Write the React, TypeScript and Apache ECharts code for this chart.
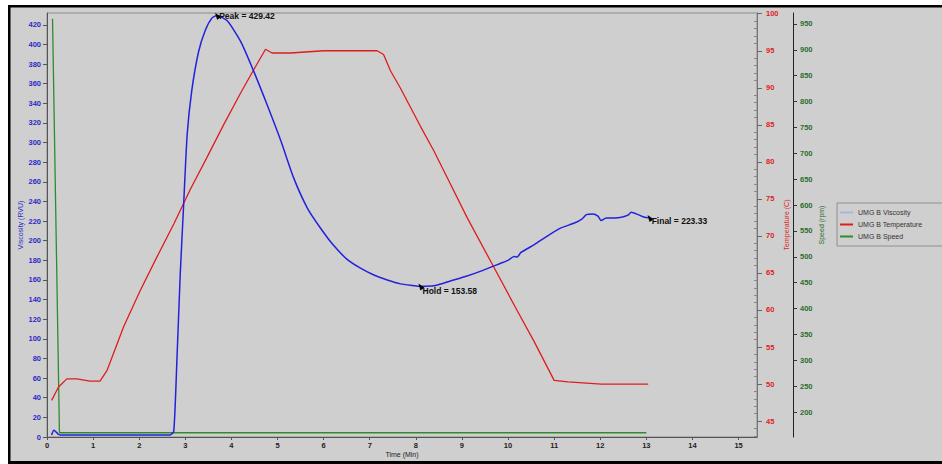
import React, { useEffect, useRef } from "react";
import * as echarts from "echarts";

// RVA pasting profile: viscosity, temperature and paddle speed over time (min)
const viscTime = [
  0.1, 0.15, 0.24, 0.3, 1.0, 2.0, 2.67, 2.75, 2.82, 2.89, 2.96, 3.04, 3.14, 3.29, 3.43, 3.58, 3.69,
  3.91, 4.2, 4.48, 4.77, 5.07, 5.35, 5.65, 5.93, 6.22, 6.51, 6.8, 7.09, 7.38, 7.67, 7.9, 8.1,
  8.39, 8.75, 9.11, 9.47, 9.84, 10.0, 10.13, 10.2, 10.28, 10.57, 10.86, 11.15, 11.44, 11.6,
  11.7, 11.84, 11.95, 12.02, 12.13, 12.31, 12.46, 12.6, 12.67, 12.82, 12.96, 13.07,
];
const viscValues = [
  2, 7, 3, 2, 2, 2, 2, 6, 81, 166, 233, 308, 353, 393, 414, 427, 429.42,
  424, 403, 373, 339, 302, 264, 233, 213, 195, 181, 172, 165, 160, 156, 154.5, 153.58,
  154, 159, 164, 170, 177, 180, 184, 183.5, 188, 196, 205, 213, 218, 222,
  226.6, 227.3, 225, 220.5, 223.2, 223.2, 223.9, 226, 229, 226.6, 223.9, 223.33,
];

const tempTime = [
  0.1, 0.25, 0.43, 0.65, 0.93, 1.15, 1.3, 1.66, 2.02, 2.38, 2.75, 3.11, 3.47, 3.83, 4.2, 4.48,
  4.74, 4.88, 5.28, 6.0, 7.16, 7.3, 7.45, 7.67, 8.1, 8.39, 8.75, 9.11, 9.69, 10.2, 10.57, 11.0,
  11.3, 12.02, 13.04,
];
const tempValues = [
  47.8, 49.6, 50.7, 50.7, 50.4, 50.4, 51.8, 57.7, 62.6, 67.1, 71.6, 76.3, 80.6, 85.0, 89.3, 92.4,
  95.2, 94.7, 94.7, 95.0, 95.0, 94.5, 92.3, 89.9, 84.8, 81.5, 77.0, 72.5, 65.8, 59.9, 55.7, 50.5,
  50.3, 50.0, 50.0,
];

const speedTime = [0.12, 0.27, 13.0];
const speedValues = [960, 160, 160];

// Axis tick positions
const timeTicks = [0, 1, 2, 3, 4, 5, 6, 7, 8, 9, 10, 11, 12, 13, 14, 15];
const viscTicks = [
  0, 20, 40, 60, 80, 100, 120, 140, 160, 180, 200, 220, 240, 260, 280, 300, 320, 340, 360, 380,
  400, 420,
];
const tempTicks = [45, 50, 55, 60, 65, 70, 75, 80, 85, 90, 95, 100];
const tempMinorTicks = [
  43, 44, 46, 47, 48, 49, 51, 52, 53, 54, 56, 57, 58, 59, 61, 62, 63, 64, 66, 67, 68, 69, 71, 72,
  73, 74, 76, 77, 78, 79, 81, 82, 83, 84, 86, 87, 88, 89, 91, 92, 93, 94, 96, 97, 98, 99,
];
const speedTicks = [
  200, 250, 300, 350, 400, 450, 500, 550, 600, 650, 700, 750, 800, 850, 900, 950,
];

// Reported RVA points
const peakPoint = { time: 3.69, value: 429.42 };
const holdPoint = { time: 8.1, value: 153.58 };
const finalPoint = { time: 13.07, value: 223.33 };

const FONT = "Liberation Sans";
const VISC_COLOR = "#2222dd";
const TEMP_COLOR = "#e01c1c";
const SPEED_COLOR = "#2e8b2e";

const zip = (xs: number[], ys: number[]) => xs.map((x, i) => [x, ys[i]]);

export default function App() {
  const ref = useRef<HTMLDivElement>(null);

  useEffect(() => {
    if (!ref.current) return;
    const chart = echarts.init(ref.current, null, { renderer: "svg" });

    const markLabel = (text: string, dy: number) => ({
      show: true,
      position: "right",
      distance: -2,
      offset: [0, dy],
      formatter: text,
      color: "#111",
      fontSize: 8.5,
      fontWeight: "bold",
      fontFamily: FONT,
    });

    chart.setOption({
      animation: false,
      backgroundColor: "#cfcfcf",
      textStyle: { fontFamily: FONT },
      graphic: [
        { type: "rect", shape: { x: 0, y: 0, width: 942, height: 5 }, style: { fill: "#ffffff" } },
        { type: "rect", shape: { x: 0, y: 0, width: 8, height: 464 }, style: { fill: "#ffffff" } },
        { type: "rect", shape: { x: 8, y: 5, width: 934, height: 2.5 }, style: { fill: "#000000" } },
        { type: "rect", shape: { x: 8, y: 5, width: 2.5, height: 459 }, style: { fill: "#000000" } },
        { type: "rect", shape: { x: 8, y: 461, width: 934, height: 3 }, style: { fill: "#000000" } },
      ],
      grid: {
        left: 47,
        right: 185,
        top: 13,
        bottom: 27,
        show: true,
        borderColor: "#8c8c8c",
        borderWidth: 1,
        backgroundColor: "transparent",
      },
      legend: {
        orient: "vertical",
        left: 837,
        top: 203,
        icon: "rect",
        itemWidth: 13,
        itemHeight: 2,
        itemGap: 5,
        padding: [6, 30, 6, 3],
        borderColor: "#8f8f8f",
        borderWidth: 1,
        textStyle: { fontSize: 7, color: "#333", fontFamily: FONT },
        data: [
          { name: "UMG B Viscosity", itemStyle: { color: "#a9b4e6" } },
          { name: "UMG B Temperature", itemStyle: { color: TEMP_COLOR } },
          { name: "UMG B Speed", itemStyle: { color: SPEED_COLOR } },
        ],
      },
      xAxis: {
        type: "value",
        min: 0,
        max: 15.4,
        name: "Time (Min)",
        nameLocation: "middle",
        nameGap: 14,
        nameMoveOverlap: false,
        nameTextStyle: { fontSize: 7, color: "#222", fontFamily: FONT },
        axisLine: { lineStyle: { color: "#555", width: 1 } },
        axisTick: { customValues: timeTicks, length: 3, lineStyle: { color: "#555" } },
        axisLabel: {
          customValues: timeTicks,
          margin: 4,
          fontSize: 7.5,
          fontWeight: "bold",
          color: "#222",
          fontFamily: FONT,
        },
        splitLine: { show: false },
      },
      yAxis: [
        {
          type: "value",
          position: "left",
          min: 0,
          max: 432,
          name: "Viscosity (RVU)",
          nameLocation: "middle",
          nameGap: 23,
          nameMoveOverlap: false,
          nameTextStyle: { fontSize: 7, color: "#2a2ac8", fontFamily: FONT },
          axisLine: { show: true, lineStyle: { color: "#555" } },
          axisTick: { show: true, customValues: viscTicks, length: 4, lineStyle: { color: "#555" } },
          axisLabel: {
            customValues: viscTicks,
            margin: 6,
            fontSize: 7.5,
            fontWeight: "bold",
            color: "#2a2ac8",
            fontFamily: FONT,
          },
          splitLine: { show: false },
        },
        {
          type: "value",
          position: "right",
          offset: 0,
          min: 42.85,
          max: 100.1,
          name: "Temperature (C)",
          nameLocation: "middle",
          nameGap: 26,
          nameMoveOverlap: false,
          nameTextStyle: { fontSize: 7, color: TEMP_COLOR, fontFamily: FONT },
          axisLine: { show: true, lineStyle: { color: "#777" } },
          axisTick: { show: true, customValues: tempTicks, length: 5, lineStyle: { color: "#666" } },
          axisLabel: {
            customValues: tempTicks,
            margin: 9,
            fontSize: 7.5,
            fontWeight: "bold",
            color: TEMP_COLOR,
            fontFamily: FONT,
          },
          splitLine: { show: false },
        },
        {
          type: "value",
          position: "right",
          offset: 0,
          min: 42.85,
          max: 100.1,
          axisLine: { show: false },
          axisTick: { show: true, inside: true, customValues: tempMinorTicks, length: 3, lineStyle: { color: "#888" } },
          axisLabel: { show: false },
          splitLine: { show: false },
        },
        {
          type: "value",
          position: "right",
          offset: 36,
          min: 151.8,
          max: 971.2,
          name: "Speed (rpm)",
          nameLocation: "middle",
          nameGap: 25,
          nameMoveOverlap: false,
          nameTextStyle: { fontSize: 7, color: "#2a6e2a", fontFamily: FONT },
          axisLine: { show: true, lineStyle: { color: "#222" } },
          axisTick: { show: true, customValues: speedTicks, length: 4, lineStyle: { color: "#333" } },
          axisLabel: {
            customValues: speedTicks,
            margin: 7,
            fontSize: 7.5,
            fontWeight: "bold",
            color: "#2a6e2a",
            fontFamily: FONT,
          },
          splitLine: { show: false },
        },
      ],
      series: [
        {
          name: "UMG B Viscosity",
          type: "line",
          yAxisIndex: 0,
          data: zip(viscTime, viscValues),
          showSymbol: false,
          smooth: 0.2,
          lineStyle: { color: VISC_COLOR, width: 1.5 },
          itemStyle: { color: VISC_COLOR },
          z: 4,
          markPoint: {
            symbol: "triangle",
            symbolSize: [5, 7],
            symbolRotate: 35,
            itemStyle: { color: "#000" },
            data: [
              {
                coord: [peakPoint.time, peakPoint.value],
                label: markLabel(`Peak = ${peakPoint.value.toFixed(2)}`, 0),
              },
              {
                coord: [holdPoint.time, holdPoint.value],
                label: markLabel(`Hold = ${holdPoint.value.toFixed(2)}`, 5),
              },
              {
                coord: [finalPoint.time, finalPoint.value],
                label: markLabel(`Final = ${finalPoint.value.toFixed(2)}`, 3),
              },
            ],
          },
        },
        {
          name: "UMG B Temperature",
          type: "line",
          yAxisIndex: 1,
          data: zip(tempTime, tempValues),
          showSymbol: false,
          lineStyle: { color: TEMP_COLOR, width: 1.3 },
          itemStyle: { color: TEMP_COLOR },
          z: 3,
        },
        {
          name: "UMG B Speed",
          type: "line",
          yAxisIndex: 3,
          data: zip(speedTime, speedValues),
          showSymbol: false,
          lineStyle: { color: SPEED_COLOR, width: 1.3 },
          itemStyle: { color: SPEED_COLOR },
          z: 2,
        },
      ],
    });

    return () => chart.dispose();
  }, []);

  return (
    <div
      ref={ref}
      style={{ position: "fixed", left: 0, top: 0, width: 942, height: 464 }}
    />
  );
}
